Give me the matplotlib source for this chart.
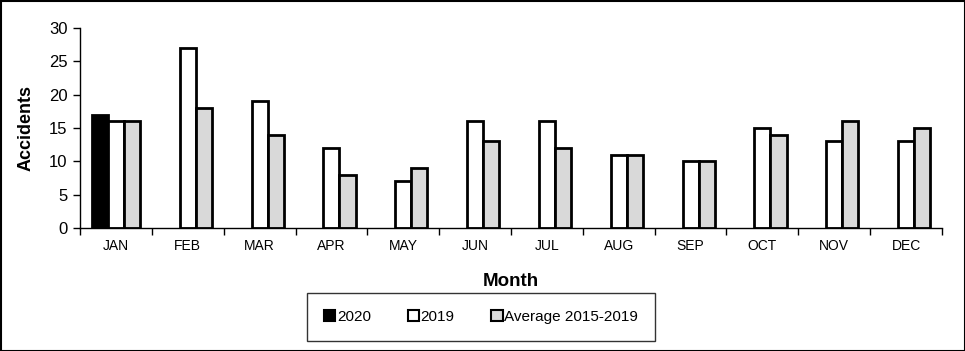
import numpy as np
import matplotlib.pyplot as plt
from matplotlib.patches import Rectangle

plt.rcParams['font.family'] = ['Liberation Sans', 'DejaVu Sans']

months = ['JAN', 'FEB', 'MAR', 'APR', 'MAY', 'JUN', 'JUL', 'AUG', 'SEP', 'OCT', 'NOV', 'DEC']
y2020 = [17, np.nan, np.nan, np.nan, np.nan, np.nan, np.nan, np.nan, np.nan, np.nan, np.nan, np.nan]
y2019 = [16, 27, 19, 12, 7, 16, 16, 11, 10, 15, 13, 13]
avg = [16, 18, 14, 8, 9, 13, 12, 11, 10, 14, 16, 15]

fig = plt.figure(figsize=(9.65, 3.51), dpi=100)
ax = fig.add_axes([80 / 965, 1 - 228 / 351, (942 - 80) / 965, 200 / 351])

x = np.arange(len(months))
w = 0.225
kw = dict(edgecolor='black', linewidth=2, width=w)
ax.bar(x - w, y2020, color='black', label='2020', **kw)
ax.bar(x, y2019, color='white', label='2019', **kw)
ax.bar(x + w, avg, color='#d9d9d9', label='Average 2015-2019', **kw)

ax.set_xlim(-0.5, len(months) - 0.5)
ax.set_ylim(0, 30)
ax.set_yticks(range(0, 31, 5))
ax.set_xticks(x)
ax.set_xticklabels(months, fontsize=10)
ax.set_xticks(np.arange(-0.5, len(months), 1), minor=True)
ax.tick_params(axis='x', which='major', length=0, pad=8)
ax.tick_params(axis='x', which='minor', length=5, width=1)
ax.tick_params(axis='y', length=5, width=1, labelsize=12, pad=4)
for s in ['top', 'right']:
    ax.spines[s].set_visible(False)
for s in ['left', 'bottom']:
    ax.spines[s].set_linewidth(1)

ax.set_ylabel('Accidents', fontsize=13, fontweight='bold', labelpad=10)
ax.set_xlabel('Month', fontsize=13.5, fontweight='bold', labelpad=14)

leg = fig.legend(loc='center', bbox_to_anchor=(481 / 965, 1 - 317 / 351), ncol=3,
                 frameon=True, fancybox=False, edgecolor='black', fontsize=11,
                 handlelength=0.75, handleheight=0.75, handletextpad=0.1,
                 columnspacing=2.4, borderpad=1.1, borderaxespad=0)
leg.get_frame().set_linewidth(1)
for h in leg.legend_handles:
    h.set_linewidth(1.5)

fig.patches.append(Rectangle((0.5 / 965, 0.5 / 351), 1 - 1 / 965, 1 - 1 / 351,
                             transform=fig.transFigure, fill=False,
                             edgecolor='black', linewidth=1.5))

fig.savefig('out.png', dpi=100)
